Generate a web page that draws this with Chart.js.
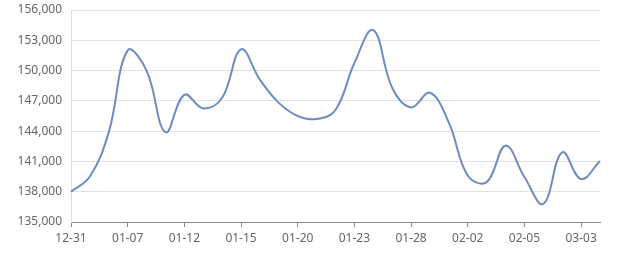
<!DOCTYPE html>
<html>
<head>
<meta charset="utf-8">
<script src="https://cdn.jsdelivr.net/npm/chart.js"></script>
<style>
  body { margin: 0; background: #fff; }
  .wrap { position: relative; width: 640px; height: 270px; }
</style>
</head>
<body>
<div class="wrap"><canvas id="price"></canvas></div>
<script>
// dates on the category axis (only every 3rd one is labelled)
const dates = [
  '12-31', '01-02', '01-06', '01-07', '01-08', '01-09', '01-12', '01-13', '01-14', '01-15',
  '01-16', '01-17', '01-20', '01-21', '01-22', '01-23', '01-24', '01-27', '01-28', '01-29',
  '01-30', '02-02', '02-03', '02-04', '02-05', '02-06', '02-07', '03-03', '03-04'
];
const prices = [
  138000, 139500, 143900, 152000, 150000, 143900, 147600, 146250, 147300, 152100,
  149100, 146800, 145500, 145200, 146100, 150750, 154000, 148300, 146350, 147800,
  144850, 139600, 138950, 142550, 139450, 136800, 141900, 139250, 141050
];
const yMin = 135000, yMax = 156000, yStep = 3000;

new Chart(document.getElementById('price'), {
  type: 'line',
  data: {
    labels: dates,
    datasets: [{
      data: prices,
      borderColor: '#6d8cc2',
      borderWidth: 2,
      tension: 0.4,
      pointRadius: 0,
      fill: false
    }]
  },
  options: {
    responsive: true,
    maintainAspectRatio: false,
    animation: false,
    layout: { padding: { top: 10, right: 40, left: 0, bottom: 0 } },
    plugins: { legend: { display: false }, tooltip: { enabled: false } },
    scales: {
      x: {
        afterFit: s => { s.height = 48; },
        border: { color: '#8a8a8a' },
        grid: { drawOnChartArea: false, tickLength: 5, color: '#8a8a8a' },
        ticks: {
          autoSkip: false, maxRotation: 0, padding: 4,
          color: '#666', font: { size: 12, family: 'Noto Sans' },
          callback: (v, i) => i % 3 === 0 ? dates[i] : null
        }
      },
      y: {
        min: yMin, max: yMax,
        afterFit: s => { s.width = 71; s.paddingTop = 0; s.paddingBottom = 0; },
        border: { display: true, color: '#dddddd' },
        grid: { color: '#e2e2e2', drawTicks: false },
        ticks: {
          stepSize: yStep, padding: 9,
          color: '#666', font: { size: 12, family: 'Noto Sans' },
          callback: v => v.toLocaleString('en-US')
        }
      }
    }
  }
});
</script>
</body>
</html>
